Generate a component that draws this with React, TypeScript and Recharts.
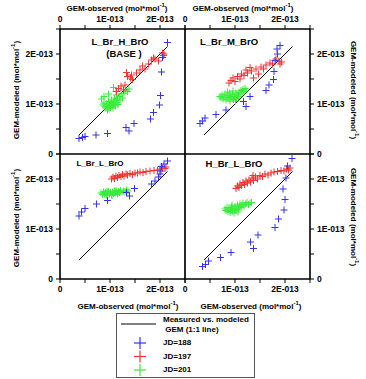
import React from 'react'
import {
  ScatterChart, Scatter, XAxis, YAxis, ReferenceLine, ReferenceArea,
} from 'recharts'

// values in units of 1E-013 mol*mol-1
type Pt = { x: number; y: number }
const pts = (a: number[][]): Pt[] => a.map(([x, y]) => ({ x, y }))

const FONT = '"Liberation Sans", Arial, sans-serif'
const BLUE = '#3333f0'
const RED = '#f03535'
const GREEN = '#3bec3b'

const axisTicks = [0, 0.5, 1, 1.5, 2, 2.5]
const tickLabels: Record<number, string> = { 0: '0', 1: '1E-013', 2: '2E-013' }
const oneToOne = pts([[0.38, 0.38], [2.15, 2.15]])

/* ── L_Br_H_BrO (BASE) ── */
const baseBlue = pts([
  [0.38, 0.31], [0.45, 0.33], [0.5, 0.35], [0.72, 0.38], [0.95, 0.41], [1.32, 0.53], [1.38, 0.46],
  [1.48, 0.61], [1.81, 0.7], [1.87, 0.83], [1.99, 0.98], [2.01, 1.17], [2.03, 1.64], [2.05, 1.93], [2.15, 2.23],
])
const baseRed = pts([
  [1.13, 1.25], [1.17, 1.31], [1.22, 1.36], [1.27, 1.28], [1.3, 1.38], [1.33, 1.63], [1.35, 1.55],
  [1.41, 1.52], [1.45, 1.49], [1.43, 1.58], [1.53, 1.62], [1.6, 1.68], [1.65, 1.76], [1.7, 1.7],
  [1.77, 1.8], [1.83, 1.88], [1.9, 1.9], [1.97, 1.86], [2.05, 2.02], [2.07, 1.97], [2.08, 2.0], [1.87, 1.92],
])
const baseGreen = pts([
  [0.83, 1.1], [0.86, 0.98], [0.88, 1.02], [0.9, 0.95], [0.92, 0.92], [0.93, 1.0], [0.95, 0.88], [0.96, 0.94],
  [0.97, 1.05], [0.98, 0.9], [0.99, 0.97], [1.0, 1.02], [1.01, 0.93], [1.02, 0.99], [1.03, 1.08], [1.04, 0.95],
  [1.05, 1.0], [1.06, 0.92], [1.07, 1.04], [1.08, 0.98], [1.09, 1.12], [1.1, 1.02], [1.11, 0.96], [1.12, 1.07],
  [1.13, 1.18], [1.14, 1.03], [1.15, 1.1], [1.16, 0.99], [1.18, 1.15], [1.2, 1.08], [1.22, 1.2], [1.25, 1.12],
  [1.28, 1.22], [1.32, 1.28], [1.35, 1.25], [1.38, 1.3], [1.07, 1.33], [0.97, 1.2], [0.88, 1.15], [1.12, 1.25],
])

/* ── L_Br_M_BrO ── */
const mBlue = pts([
  [0.3, 0.61], [0.35, 0.66], [0.4, 0.72], [0.62, 0.79], [0.82, 0.88], [1.17, 1.05], [1.22, 0.95], [1.3, 1.15],
  [1.62, 1.27], [1.68, 1.38], [1.77, 1.49], [1.78, 1.65], [1.8, 1.87], [1.85, 2.0], [1.84, 2.1], [1.9, 2.17],
])
const mRed = pts([
  [0.88, 1.42], [0.92, 1.47], [0.96, 1.52], [1.0, 1.45], [1.05, 1.55], [1.1, 1.5], [1.13, 1.6], [1.18, 1.57],
  [1.22, 1.68], [1.25, 1.62], [1.3, 1.73], [1.33, 1.66], [1.37, 1.52], [1.42, 1.7], [1.47, 1.6], [1.52, 1.74],
  [1.57, 1.7], [1.62, 1.78], [1.7, 1.82], [1.75, 1.8], [1.82, 1.9], [1.88, 1.86], [1.93, 1.84], [1.9, 1.8],
])
const mGreen = pts([
  [0.7, 1.15], [0.72, 1.12], [0.74, 1.18], [0.76, 1.1], [0.78, 1.14], [0.8, 1.2], [0.82, 1.08], [0.84, 1.13],
  [0.86, 1.17], [0.88, 1.1], [0.89, 1.22], [0.9, 1.06], [0.92, 1.15], [0.94, 1.12], [0.95, 1.19], [0.97, 1.09],
  [0.99, 1.16], [1.0, 1.13], [1.02, 1.22], [1.03, 1.11], [1.05, 1.18], [1.07, 1.15], [1.08, 1.24], [1.1, 1.2],
  [1.12, 1.27], [1.14, 1.22], [1.16, 1.29], [1.18, 1.25], [1.2, 1.31], [1.22, 1.28], [0.85, 1.24], [0.96, 1.26], [1.01, 1.06],
])

/* ── L_Br_L_BrO ── */
const lBlue = pts([
  [0.38, 1.26], [0.43, 1.34], [0.5, 1.41], [0.73, 1.5], [0.95, 1.57], [1.33, 1.73], [1.39, 1.66], [1.49, 1.81],
  [1.83, 1.9], [1.9, 1.96], [1.97, 2.04], [2.0, 2.1], [2.03, 2.25], [2.08, 2.3], [2.15, 2.36], [2.02, 2.16],
])
const lRed = pts([
  [1.03, 2.0], [1.06, 2.04], [1.09, 2.01], [1.12, 2.06], [1.15, 2.03], [1.18, 2.07], [1.22, 2.05], [1.25, 2.09],
  [1.28, 2.06], [1.32, 2.1], [1.35, 2.08], [1.4, 2.11], [1.45, 2.09], [1.5, 2.12], [1.55, 2.12], [1.6, 2.14],
  [1.66, 2.13], [1.72, 2.15], [1.8, 2.16], [1.88, 2.17], [1.95, 2.18], [2.0, 2.2], [2.05, 2.22], [2.1, 2.21], [2.12, 2.24],
])
const lGreen = pts([
  [0.82, 1.72], [0.85, 1.69], [0.87, 1.74], [0.89, 1.7], [0.91, 1.73], [0.93, 1.68], [0.95, 1.72], [0.97, 1.75],
  [0.99, 1.7], [1.01, 1.73], [1.03, 1.69], [1.05, 1.74], [1.07, 1.71], [1.09, 1.76], [1.11, 1.72], [1.13, 1.74],
  [1.15, 1.7], [1.17, 1.75], [1.19, 1.73], [1.21, 1.77], [1.24, 1.74], [1.27, 1.76], [1.3, 1.75], [1.33, 1.78],
  [1.36, 1.76], [0.94, 1.76], [1.04, 1.67], [1.12, 1.77],
])

/* ── H_Br_L_BrO ── */
const hBlue = pts([
  [0.35, 0.25], [0.41, 0.29], [0.47, 0.36], [0.71, 0.43], [0.92, 0.53], [1.31, 0.74], [1.37, 0.61], [1.46, 0.88],
  [1.8, 1.03], [1.87, 1.2], [1.98, 1.38], [2.0, 1.59], [1.96, 1.8], [2.02, 2.02], [2.05, 2.26], [2.14, 2.41],
])
const hRed = pts([
  [1.02, 1.81], [1.05, 1.86], [1.08, 1.83], [1.1, 1.9], [1.13, 1.87], [1.16, 1.93], [1.19, 1.89], [1.22, 1.96],
  [1.25, 1.92], [1.28, 1.98], [1.31, 1.94], [1.34, 2.02], [1.37, 1.97], [1.41, 2.04], [1.45, 2.0], [1.5, 2.07],
  [1.55, 2.05], [1.6, 2.1], [1.66, 2.08], [1.72, 2.12], [1.78, 2.14], [1.85, 2.15], [1.92, 2.17], [1.98, 2.16],
  [2.03, 2.2], [2.07, 2.18], [2.1, 2.22], [1.36, 2.07],
])
const hGreen = pts([
  [0.8, 1.4], [0.82, 1.37], [0.84, 1.43], [0.86, 1.35], [0.88, 1.4], [0.9, 1.33], [0.91, 1.38], [0.93, 1.44],
  [0.95, 1.36], [0.96, 1.41], [0.98, 1.32], [0.99, 1.39], [1.0, 1.45], [1.02, 1.37], [1.04, 1.42], [1.05, 1.48],
  [1.07, 1.4], [1.09, 1.45], [1.1, 1.5], [1.12, 1.43], [1.14, 1.48], [1.16, 1.52], [1.18, 1.46], [1.21, 1.5],
  [1.24, 1.53], [1.27, 1.49], [1.3, 1.52], [1.33, 1.53], [0.94, 1.48], [1.06, 1.34],
])

const legendItems = [
  { label: 'JD=188', color: BLUE },
  { label: 'JD=197', color: RED },
  { label: 'JD=201', color: GREEN },
]

const Plus = (color: string) => (props: any) => {
  const { cx, cy } = props
  if (cx == null || cy == null) return null
  return (
    <g>
      <line x1={cx - 3.5} y1={cy} x2={cx + 3.5} y2={cy} stroke={color} strokeWidth={1} />
      <line x1={cx} y1={cy - 3.5} x2={cx} y2={cy + 3.5} stroke={color} strokeWidth={1} />
    </g>
  )
}

const tickStyle = { fontSize: 8.5, fontWeight: 'bold', fill: '#000', fontFamily: FONT }
const fmt = (v: number) => tickLabels[v] ?? ''

interface PanelProps {
  blue: Pt[]; red: Pt[]; green: Pt[]
  margin: { top: number; left: number; right: number; bottom: number }
  xSide: 'top' | 'bottom'
  ySide: 'left' | 'right'
}

function Panel({ blue, red, green, margin, xSide, ySide }: PanelProps) {
  return (
    <div style={{ position: 'absolute', left: 0, top: 0 }}>
      <ScatterChart width={366} height={379} margin={margin}>
        <XAxis type="number" dataKey="x" orientation={xSide} domain={[0, 2.5]} ticks={axisTicks}
          tickFormatter={fmt} tick={tickStyle} tickSize={4} tickMargin={3} height={20}
          stroke="#000" allowDataOverflow interval={0} />
        <YAxis type="number" dataKey="y" orientation={ySide} domain={[0, 2.5]} ticks={axisTicks}
          tickFormatter={fmt} tick={tickStyle} tickSize={4} tickMargin={3} width={40}
          stroke="#000" allowDataOverflow interval={0} />
        <ReferenceArea x1={0} x2={2.5} y1={0} y2={2.5} fill="none" stroke="#000" strokeWidth={1.2} />
        <ReferenceLine segment={oneToOne} stroke="#000" strokeWidth={1} />
        <Scatter data={green} shape={Plus(GREEN)} isAnimationActive={false} />
        <Scatter data={red} shape={Plus(RED)} isAnimationActive={false} />
        <Scatter data={blue} shape={Plus(BLUE)} isAnimationActive={false} />
      </ScatterChart>
    </div>
  )
}

const obsTitle = <>GEM-observed (mol*mol<sup style={{ fontSize: 6 }}>-1</sup>)</>
const modTitle = <>GEM-modeled (mol*mol<sup style={{ fontSize: 6 }}>-1</sup>)</>

const Txt = ({ cx, cy, size = 8, rot = 0, w = 130, children }: any) => (
  <div style={{
    position: 'absolute', left: cx - w / 2, top: cy - 6, width: w, height: 12, lineHeight: '12px',
    textAlign: 'center', fontSize: size, fontWeight: 'bold', whiteSpace: 'nowrap',
    transform: rot ? `rotate(${rot}deg)` : undefined,
  }}>{children}</div>
)

export default function App() {
  return (
    <div style={{ position: 'absolute', left: 0, top: 0, width: 366, height: 379, background: '#fff', fontFamily: FONT, color: '#000' }}>
      <Panel blue={baseBlue} red={baseRed} green={baseGreen} xSide="top" ySide="left"
        margin={{ top: 9, left: 20, right: 181, bottom: 225 }} />
      <Panel blue={mBlue} red={mRed} green={mGreen} xSide="top" ySide="right"
        margin={{ top: 9, left: 185, right: 16, bottom: 225 }} />
      <Panel blue={lBlue} red={lRed} green={lGreen} xSide="bottom" ySide="left"
        margin={{ top: 154, left: 20, right: 181, bottom: 80 }} />
      <Panel blue={hBlue} red={hRed} green={hGreen} xSide="bottom" ySide="right"
        margin={{ top: 154, left: 185, right: 16, bottom: 80 }} />

      {/* axis titles */}
      <Txt cx={117} cy={5}>{obsTitle}</Txt>
      <Txt cx={243} cy={5}>{obsTitle}</Txt>
      <Txt cx={128} cy={303}>{obsTitle}</Txt>
      <Txt cx={251} cy={303}>{obsTitle}</Txt>
      <Txt cx={13} cy={90} rot={-90}>{modTitle}</Txt>
      <Txt cx={13} cy={218} rot={-90}>{modTitle}</Txt>
      <Txt cx={357} cy={90} rot={90}>{modTitle}</Txt>
      <Txt cx={357} cy={217} rot={90}>{modTitle}</Txt>

      {/* panel titles */}
      <Txt cx={120} cy={42} size={9.5}>L_Br_H_BrO</Txt>
      <Txt cx={124} cy={54} size={9.5}>(BASE )</Txt>
      <Txt cx={229} cy={42} size={9.5}>L_Br_M_BrO</Txt>
      <Txt cx={100} cy={164} size={8}>L_Br_L_BrO</Txt>
      <Txt cx={234} cy={164} size={9.5}>H_Br_L_BrO</Txt>

      {/* legend */}
      <div style={{ position: 'absolute', left: 116, top: 313, width: 137, height: 63, border: '1px solid #555' }}>
        <svg width={137} height={63} style={{ position: 'absolute', left: 0, top: 0 }}>
          <line x1={4} y1={10} x2={39} y2={10} stroke="#000" strokeWidth={1} />
          {legendItems.map((it, i) => (
            <g key={it.label}>
              <line x1={17} y1={29 + i * 13.5} x2={29} y2={29 + i * 13.5} stroke={it.color} strokeWidth={1.2} />
              <line x1={23} y1={23 + i * 13.5} x2={23} y2={35 + i * 13.5} stroke={it.color} strokeWidth={1.2} />
            </g>
          ))}
        </svg>
        <div style={{ position: 'absolute', left: 46, top: 1, fontSize: 8, fontWeight: 'bold', lineHeight: '9.5px', whiteSpace: 'nowrap' }}>
          Measured vs. modeled<br />&nbsp;GEM (1:1 line)
        </div>
        {legendItems.map((it, i) => (
          <div key={it.label} style={{ position: 'absolute', left: 46, top: 23 + i * 13.5, fontSize: 8, fontWeight: 'bold', lineHeight: '12px' }}>
            {it.label}
          </div>
        ))}
      </div>
    </div>
  )
}
